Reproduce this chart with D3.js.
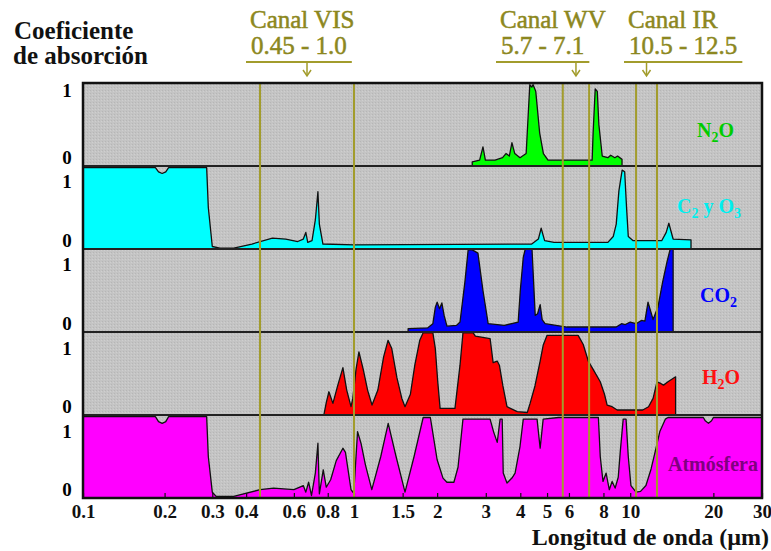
<!DOCTYPE html>
<html>
<head>
<meta charset="utf-8">
<script src="https://cdn.jsdelivr.net/npm/d3@7"></script>
<style>
  body { margin: 0; background: #fff; }
  svg { display: block; }
</style>
</head>
<body>
<svg id="chart" width="771" height="551"></svg>
<script>
// Absorption spectra: [wavelength in µm, absorption coefficient 0..1]
const n2o = [
  [2.68,0],[2.68,0.05],[2.85,0.07],[2.93,0.23],[2.99,0.07],[3.24,0.07],[3.45,0.1],[3.55,0.15],
  [3.65,0.12],[3.73,0.28],[3.82,0.15],[3.99,0.1],[4.2,0.15],[4.27,0.6],[4.33,0.98],[4.4,0.95],
  [4.45,0.98],[4.55,0.9],[4.7,0.4],[4.85,0.15],[5.04,0.07],[7.28,0.07],[7.34,0.4],[7.47,0.93],
  [7.6,0.9],[7.7,0.5],[7.92,0.12],[8.3,0.1],[8.5,0.13],[8.8,0.1],[9.0,0.12],[9.34,0.08],[9.34,0]
];
const ozone = [
  [0.1,0.98],[0.185,0.98],[0.19,0.93],[0.196,0.91],[0.202,0.93],[0.207,0.98],[0.286,0.98],
  [0.29,0.5],[0.30,0.03],[0.32,0.01],[0.36,0.01],[0.42,0.06],[0.5,0.13],[0.56,0.12],[0.62,0.09],
  [0.65,0.12],[0.664,0.2],[0.675,0.08],[0.7,0.1],[0.72,0.35],[0.736,0.69],[0.745,0.3],[0.768,0.06],
  [1.0,0.05],[4.4,0.06],[4.65,0.12],[4.76,0.25],[4.9,0.1],[5.3,0.08],[8.3,0.08],[8.68,0.15],
  [8.9,0.3],[9.1,0.7],[9.35,0.95],[9.55,0.93],[9.7,0.5],[9.84,0.15],[10.25,0.1],[13.0,0.1],
  [13.5,0.2],[13.8,0.31],[14.3,0.12],[16.6,0.11],[16.6,0]
];
const co2 = [
  [1.57,0],[1.57,0.04],[1.85,0.05],[1.93,0.1],[1.97,0.3],[2.0,0.36],[2.04,0.28],[2.08,0.35],
  [2.12,0.2],[2.17,0.07],[2.35,0.08],[2.42,0.12],[2.52,0.6],[2.59,0.99],[2.68,0.99],[2.81,0.95],
  [2.93,0.5],[3.06,0.1],[3.5,0.08],[3.93,0.12],[4.0,0.5],[4.1,0.9],[4.17,1.0],[4.41,1.0],[4.53,0.2],
  [4.62,0.22],[4.72,0.33],[4.8,0.15],[4.92,0.1],[5.9,0.06],[8.9,0.06],[9.3,0.1],[9.6,0.09],
  [10.0,0.12],[10.5,0.1],[11.0,0.14],[11.3,0.13],[11.6,0.36],[12.1,0.15],[12.6,0.3],[13.1,0.6],
  [13.6,0.85],[13.96,1.0],[14.3,1.0],[14.3,0]
];
const h2o = [
  [0.774,0],[0.79,0.15],[0.808,0.28],[0.836,0.14],[0.87,0.35],[0.91,0.57],[0.94,0.3],[0.975,0.1],
  [0.99,0.2],[1.017,0.55],[1.042,0.76],[1.08,0.55],[1.12,0.3],[1.162,0.12],[1.22,0.3],[1.28,0.7],
  [1.328,0.9],[1.37,0.8],[1.43,0.45],[1.49,0.2],[1.53,0.1],[1.6,0.25],[1.66,0.6],[1.73,0.9],
  [1.78,0.99],[1.93,0.99],[1.97,0.8],[2.01,0.4],[2.05,0.08],[2.32,0.08],[2.42,0.6],[2.48,0.99],
  [2.7,0.99],[2.75,0.95],[3.11,0.92],[3.19,0.63],[3.3,0.65],[3.36,0.6],[3.46,0.35],[3.58,0.1],
  [3.9,0.04],[4.24,0.03],[4.34,0.14],[4.52,0.35],[4.72,0.65],[4.84,0.84],[5.0,0.96],[6.48,0.96],
  [6.76,0.85],[7.05,0.65],[7.28,0.57],[7.79,0.4],[8.07,0.25],[8.25,0.12],[8.6,0.1],[8.97,0.06],
  [11.1,0.06],[11.65,0.1],[12.1,0.2],[12.5,0.4],[12.9,0.38],[13.2,0.36],[13.7,0.4],[14.6,0.46],[14.6,0]
];
const atmosphere = [
  [0.1,0.98],[0.185,0.98],[0.19,0.92],[0.196,0.9],[0.202,0.92],[0.207,0.98],[0.286,0.98],
  [0.29,0.5],[0.30,0.07],[0.31,0.02],[0.36,0.02],[0.45,0.1],[0.505,0.12],[0.6,0.1],[0.65,0.15],
  [0.664,0.07],[0.68,0.19],[0.697,0.03],[0.72,0.3],[0.736,0.66],[0.745,0.05],[0.77,0.34],
  [0.79,0.13],[0.82,0.22],[0.86,0.45],[0.91,0.6],[0.93,0.55],[0.975,0.1],[0.99,0.07],[1.0,0.1],
  [1.03,0.8],[1.06,0.66],[1.1,0.4],[1.16,0.1],[1.25,0.5],[1.33,0.9],[1.42,0.5],[1.53,0.07],
  [1.65,0.5],[1.78,0.97],[1.89,0.97],[2.0,0.46],[2.1,0.24],[2.17,0.19],[2.3,0.19],[2.38,0.37],
  [2.43,0.66],[2.48,0.95],[3.11,0.95],[3.2,0.8],[3.3,0.67],[3.38,0.95],[3.44,0.95],[3.47,0.3],
  [3.58,0.18],[3.73,0.24],[3.83,0.3],[3.99,0.62],[4.1,0.95],[4.6,0.95],[4.72,0.6],[4.84,0.95],
  [5.5,0.97],[7.67,0.97],[7.79,0.5],[7.97,0.2],[8.18,0.3],[8.4,0.1],[8.6,0.2],[8.82,0.12],
  [9.05,0.25],[9.2,0.55],[9.43,0.95],[9.66,0.95],[9.84,0.5],[10.06,0.15],[10.5,0.07],[10.9,0.08],
  [11.4,0.15],[11.9,0.35],[12.4,0.6],[12.8,0.8],[13.4,0.95],[13.7,0.97],[18.4,0.97],[18.7,0.93],
  [19.2,0.9],[19.7,0.93],[20.0,0.97],[30,0.97]
];

const seriesList = [n2o, ozone, co2, h2o, atmosphere];
// Label pieces: [text, isSubscript]
const seriesLabels = [
  [["N",0],["2",1],["O",0]],
  [["C",0],["2",1],[" y O",0],["3",1]],
  [["CO",0],["2",1]],
  [["H",0],["2",1],["O",0]],
  [["Atmósfera",0]]
];
const xTicks = [0.1,0.2,0.3,0.4,0.6,0.8,1,1.5,2,3,4,5,6,8,10,20,30];
const channelNames = ["Canal VIS","Canal WV","Canal IR"];
const channelRangeText = ["0.45 - 1.0","5.7 - 7.1","10.5 - 12.5"];
const channelRanges = [[0.45,1.0],[5.7,7.1],[10.5,12.5]];

// ---- layout & styling ----
const svg = d3.select("#chart");
const plotLeft = 83, plotRight = 762, plotTop = 83, panelH = 83;
const plotBottom = plotTop + panelH * seriesList.length;
const fills = ["#00ff00","#00ffff","#0000ff","#ff0000","#ff00ff"];
const labelColors = ["#00cc00","#00eeee","#0000ff","#ff1010","#800080"];
const labelPos = [[697,137],[677,213],[700,302],[702,384],[668,471]];
const oneOffset = [14,22,22,23,23];
const olive = "#a29c2c", oliveText = "#8c8720";
const serif = "'Liberation Serif','Times New Roman',serif";

const x = d3.scaleLog().domain([0.1, 1, 30]).range([plotLeft, 354, plotRight]);

// stippled grey background
const defs = svg.append("defs");
const pat = defs.append("pattern").attr("id","stipple").attr("width",3).attr("height",3)
  .attr("patternUnits","userSpaceOnUse");
pat.append("rect").attr("width",3).attr("height",3).attr("fill","#c4c4c4");
pat.append("rect").attr("x",0).attr("y",0).attr("width",1).attr("height",1).attr("fill","#b6b6b6");
pat.append("rect").attr("x",2).attr("y",1).attr("width",1).attr("height",1).attr("fill","#cfcfcf");

svg.append("rect").attr("x",plotLeft).attr("y",plotTop)
  .attr("width",plotRight-plotLeft).attr("height",plotBottom-plotTop).attr("fill","url(#stipple)");

seriesList.forEach((data, i) => {
  const top = plotTop + i * panelH;
  const y = d3.scaleLinear().domain([0,1]).range([top + panelH, top]);
  const g = svg.append("g");
  g.append("path").datum(data)
    .attr("fill", fills[i])
    .attr("d", d3.area().x(d => x(d[0])).y0(y(0)).y1(d => y(d[1])));
  g.append("path").datum(data)
    .attr("fill","none").attr("stroke","#111").attr("stroke-width",1.3)
    .attr("stroke-linejoin","round")
    .attr("d", d3.line().x(d => x(d[0])).y(d => y(d[1])));

  // 0 / 1 labels
  svg.append("text").attr("x",67).attr("y",top + oneOffset[i]).attr("text-anchor","middle")
    .attr("font-family",serif).attr("font-weight","bold").attr("font-size",19).text("1");
  svg.append("text").attr("x",67).attr("y",top + 81).attr("text-anchor","middle")
    .attr("font-family",serif).attr("font-weight","bold").attr("font-size",19).text("0");

  // species label with subscripts
  const t = svg.append("text").attr("x",labelPos[i][0]).attr("y",labelPos[i][1])
    .attr("font-family",serif).attr("font-weight","bold").attr("font-size",20)
    .attr("fill",labelColors[i]);
  let prevSub = 0;
  seriesLabels[i].forEach(([s, sub]) => {
    const ts = t.append("tspan").text(s)
      .attr("dy", sub && !prevSub ? 5 : (!sub && prevSub ? -5 : 0));
    if (sub) ts.attr("font-size",14);
    prevSub = sub;
  });
});

// panel separators
for (let i = 1; i < seriesList.length; i++) {
  const yy = plotTop + i * panelH;
  svg.append("line").attr("x1",plotLeft).attr("x2",plotRight).attr("y1",yy).attr("y2",yy)
    .attr("stroke","#222").attr("stroke-width",2);
}

// bottom axis
const axis = d3.axisBottom(x).tickValues(xTicks).tickFormat(d => String(d))
  .tickSize(-5).tickPadding(7);
const ax = svg.append("g").attr("transform",`translate(0,${plotBottom})`).call(axis);
ax.select(".domain").remove();
ax.selectAll(".tick line").attr("stroke","#111").attr("stroke-width",1.2);
ax.selectAll(".tick text").attr("font-family",serif).attr("font-weight","bold")
  .attr("font-size",19).attr("fill","#111");

// spectral channels
const headerLeft = [250, 500, 628];
channelRanges.forEach((r, i) => {
  const x0 = x(r[0]), x1 = x(r[1]);
  svg.append("rect").attr("x",x0).attr("y",plotTop).attr("width",x1-x0)
    .attr("height",plotBottom-plotTop).attr("fill","none")
    .attr("stroke",olive).attr("stroke-width",2);
  const cx = x(Math.sqrt(r[0]*r[1]));
  svg.append("text").attr("x",headerLeft[i]).attr("y",28)
    .attr("font-family",serif).attr("font-size",25).attr("fill",oliveText)
    .attr("stroke",oliveText).attr("stroke-width",0.5).text(channelNames[i]);
  const t2 = svg.append("text").attr("x",headerLeft[i]+1).attr("y",54)
    .attr("font-family",serif).attr("font-size",25).attr("fill",oliveText)
    .attr("stroke",oliveText).attr("stroke-width",0.5).text(channelRangeText[i]);
  const w2 = t2.node().getComputedTextLength();
  svg.append("line").attr("x1",headerLeft[i]-4).attr("x2",headerLeft[i]+w2+6)
    .attr("y1",62).attr("y2",62).attr("stroke",olive).attr("stroke-width",2);
  svg.append("line").attr("x1",cx).attr("x2",cx).attr("y1",62).attr("y2",75)
    .attr("stroke",olive).attr("stroke-width",1.5);
  svg.append("path").attr("d",`M${cx-4},70 L${cx},76 L${cx+4},70`)
    .attr("fill","none").attr("stroke",olive).attr("stroke-width",1.5);
});

// outer frame
svg.append("rect").attr("x",plotLeft).attr("y",plotTop)
  .attr("width",plotRight-plotLeft).attr("height",plotBottom-plotTop)
  .attr("fill","none").attr("stroke","#111").attr("stroke-width",2.5);

// titles
svg.append("text").attr("x",14).attr("y",39).attr("font-family",serif).attr("font-weight","bold")
  .attr("font-size",25).attr("fill","#111").text("Coeficiente");
svg.append("text").attr("x",13).attr("y",64).attr("font-family",serif).attr("font-weight","bold")
  .attr("font-size",25).attr("fill","#111").text("de absorción");
svg.append("text").attr("x",769).attr("y",545).attr("text-anchor","end")
  .attr("font-family",serif).attr("font-weight","bold").attr("font-size",24)
  .attr("fill","#111").text("Longitud de onda (µm)");
</script>
</body>
</html>
